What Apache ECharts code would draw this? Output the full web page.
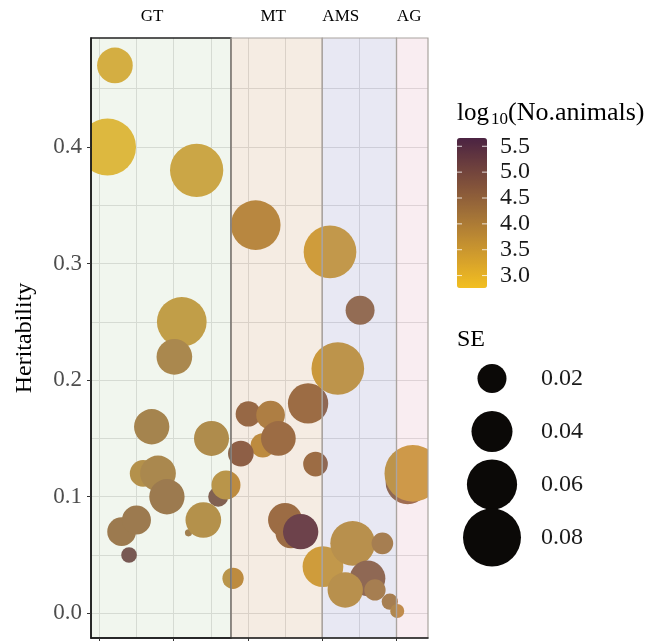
<!DOCTYPE html>
<html>
<head>
<meta charset="utf-8">
<script src="https://cdn.jsdelivr.net/npm/echarts@6/dist/echarts.min.js"></script>
<style>
  html, body { margin: 0; padding: 0; background: #fff; }
  #chart { width: 668px; height: 641px; }
</style>
</head>
<body>
<div id="chart"></div>
<script>
// studies, in drawing order (later ones sit on top)
const studyX = [1.1, 2.1, 13.1, 11.1, 10.1, 7.05, 15.1, 5.9, 7.9, 9.1, 16.0, 17.05, 3.0, 5.0, 4.0, 12.0, 14.0, 18.0,
  21.05, 20.05, 23.05, 22.0, 24.1, 19.05, 28.1, 29.1, 25.0, 25.8, 27.1,
  31.05, 35.1, 32.1, 30.1, 34.1, 38.1, 36.1, 33.1, 37.1, 39.1, 40.1, 41.5, 42.2];
const heritability = [0.400, 0.470, 0.380, 0.250, 0.220, 0.160, 0.150, 0.120, 0.120, 0.100, 0.100, 0.110, 0.070, 0.080, 0.050, 0.069, 0.080, 0.030,
  0.333, 0.171, 0.170, 0.144, 0.150, 0.137, 0.180, 0.128, 0.080, 0.069, 0.070,
  0.310, 0.260, 0.210, 0.040, 0.060, 0.060, 0.030, 0.020, 0.020, 0.010, 0.002, 0.1125, 0.120];
const seValues = [0.0774, 0.0303, 0.0676, 0.0588, 0.0303, 0.0297, 0.0292, 0.0170, 0.0303, 0.0297, 0.0095, 0.0200, 0.0196, 0.0200, 0.0059, 0.0012, 0.0303, 0.0108,
  0.0588, 0.0152, 0.0196, 0.0141, 0.0287, 0.0157, 0.0387, 0.0145, 0.0275, 0.0229, 0.0297,
  0.0661, 0.0200, 0.0661, 0.0394, 0.0476, 0.0112, 0.0303, 0.0297, 0.0108, 0.0063, 0.0047, 0.0461, 0.0765];
const logAnimals = [3.0, 3.2, 3.4, 3.6, 4.1, 4.2, 4.0, 3.9, 4.1, 4.4, 5.0, 3.8, 4.4, 4.4, 5.2, 4.3, 3.9, 3.8,
  3.9, 4.6, 4.1, 3.8, 4.5, 4.8, 4.5, 4.5, 4.5, 4.5, 5.5,
  3.4, 4.4, 3.5, 3.4, 3.6, 4.0, 4.5, 3.6, 4.0, 4.0, 3.8, 4.5, 3.5];

const groupNames = ['GT', 'MT', 'AMS', 'AG'];
const groupStart = [-1.12, 17.73, 30, 40];
const groupEnd = [17.73, 30, 40, 44.24];
const groupLabelX = [7.1, 23.4, 32.5, 41.7];
const groupFill = ['rgba(185,210,170,0.2)', 'rgba(205,160,115,0.2)', 'rgba(140,140,195,0.2)', 'rgba(225,165,185,0.2)'];

const xTicks = [0, 10, 20, 30, 40];
const yTicks = [0, 0.1, 0.2, 0.3, 0.4];
const gridX = [0, 5, 10, 15, 20, 25, 30, 35, 40];
const gridY = [0, 0.05, 0.1, 0.15, 0.2, 0.25, 0.3, 0.35, 0.4, 0.45];
const colorTicks = [3.0, 3.5, 4.0, 4.5, 5.0, 5.5];
const seLegend = [0.02, 0.04, 0.06, 0.08];

const xMin = -1.12, xMax = 44.24;
const yMin = -0.0212, yMax = 0.4935;
const cbMin = 2.76, cbMax = 5.66;
const cbLeft = 457, cbTop = 138, cbW = 30, cbH = 150;
const serif = "'Liberation Serif', 'Times New Roman', serif";

const seSize = se => Math.sqrt(se) * 205;

const chart = echarts.init(document.getElementById('chart'));

const bubbles = studyX.map((x, i) => [x, heritability[i], seValues[i], logAnimals[i]]);

chart.setOption({
  animation: false,
  grid: [
    { left: 91, right: 240, top: 38, bottom: 3 },
    { left: 462, width: 60, top: 352, height: 212 }
  ],
  xAxis: [{
    type: 'value', min: xMin, max: xMax, splitNumber: 5, z: 5,
    axisLine: { show: true, onZero: false, lineStyle: { color: '#1a1a1a', width: 1.5 } },
    axisTick: { show: true, customValues: xTicks, length: 4, lineStyle: { color: '#333' } },
    axisLabel: { show: false },
    splitLine: { show: false }
  }, {
    gridIndex: 1, type: 'value', min: -1, max: 1, show: false
  }],
  yAxis: [{
    type: 'value', min: yMin, max: yMax, splitNumber: 5, z: 5,
    name: 'Heritability', nameLocation: 'middle', nameGap: 54,
    nameTextStyle: { fontFamily: serif, fontSize: 24, color: '#000' },
    axisLine: { show: true, onZero: false, lineStyle: { color: '#1a1a1a', width: 1.5 } },
    axisTick: { show: true, customValues: yTicks, length: 4, lineStyle: { color: '#333' } },
    axisLabel: {
      customValues: yTicks, margin: 9, fontFamily: serif, fontSize: 23, color: '#4d4d4d',
      formatter: v => v.toFixed(1)
    },
    splitLine: { show: false }
  }, {
    gridIndex: 1, type: 'category', data: seLegend.map(String), inverse: true, show: false
  }],
  visualMap: {
    type: 'continuous', seriesIndex: 0, dimension: 3,
    min: cbMin, max: cbMax, calculable: false,
    orient: 'vertical', left: cbLeft, top: cbTop, padding: 0,
    itemWidth: cbW, itemHeight: cbH,
    inRange: { color: ['#F2BF20', '#D9A42A', '#BD8A32', '#A07038', '#85553A', '#693C3E', '#4B2342'] }
  },
  series: [{
    // bubbles, clipped to the panel
    type: 'custom', z: 2, clip: true,
    data: bubbles,
    encode: { x: 0, y: 1 },
    renderItem: (params, api) => {
      const c = api.coord([api.value(0), api.value(1)]);
      return {
        type: 'circle',
        shape: { cx: c[0], cy: c[1], r: seSize(api.value(2)) / 2 },
        style: { fill: api.visual('color') }
      };
    }
  }, {
    // grid lines under the bubbles, band overlays above them
    type: 'scatter', data: [], z: 1,
    markLine: {
      silent: true, z: 1, symbol: 'none', label: { show: false },
      lineStyle: { color: '#dedede', width: 1, type: 'solid' },
      data: gridX.map(v => ({ xAxis: v })).concat(gridY.map(v => ({ yAxis: v })))
    },
    markArea: {
      silent: true, z: 3,
      data: groupNames.map((g, i) => [{
        xAxis: groupStart[i], yAxis: yMin,
        itemStyle: {
          color: groupFill[i],
          borderColor: i === 0 ? '#222' : '#aaa49f',
          borderWidth: i === 0 ? 1.5 : 1.2
        }
      }, { xAxis: groupEnd[i], yAxis: yMax }])
    }
  }, {
    type: 'scatter', xAxisIndex: 1, yAxisIndex: 1,
    data: seLegend.map((s, i) => [0, i, s]),
    symbolSize: v => seSize(v[2]),
    itemStyle: { color: '#0b0907', opacity: 1 },
    label: {
      show: true, position: 'inside', offset: [49, 0], align: 'left',
      fontFamily: serif, fontSize: 24, color: '#1a1a1a',
      formatter: p => seLegend[p.dataIndex].toFixed(2)
    }
  }]
});

const graphics = [];
// group labels above the panel
groupNames.forEach((g, i) => {
  const px = chart.convertToPixel({ xAxisIndex: 0 }, groupLabelX[i]);
  graphics.push({
    type: 'text', x: px, y: 17, z: 100,
    style: { text: g, fontFamily: serif, fontSize: 17, fill: '#000', align: 'center', verticalAlign: 'middle' }
  });
});
// colour bar title and ticks
graphics.push({ type: 'text', x: 457, y: 113, z: 100, style: { text: 'log', fontFamily: serif, fontSize: 25, fill: '#000', verticalAlign: 'middle' } });
graphics.push({ type: 'text', x: 491, y: 120, z: 100, style: { text: '10', fontFamily: serif, fontSize: 17, fill: '#000', verticalAlign: 'middle' } });
graphics.push({ type: 'text', x: 508, y: 113, z: 100, style: { text: '(No.animals)', fontFamily: serif, fontSize: 26, fill: '#000', verticalAlign: 'middle' } });
colorTicks.forEach(v => {
  const py = cbTop + (cbMax - v) / (cbMax - cbMin) * cbH;
  graphics.push({ type: 'line', z: 100, shape: { x1: cbLeft, y1: py, x2: cbLeft + 5, y2: py }, style: { stroke: 'rgba(255,255,255,0.8)', lineWidth: 1 } });
  graphics.push({ type: 'line', z: 100, shape: { x1: cbLeft + cbW - 5, y1: py, x2: cbLeft + cbW, y2: py }, style: { stroke: 'rgba(255,255,255,0.8)', lineWidth: 1 } });
  graphics.push({
    type: 'text', x: 500, y: py, z: 100,
    style: { text: v.toFixed(1), fontFamily: serif, fontSize: 24, fill: '#1a1a1a', verticalAlign: 'middle' }
  });
});
graphics.push({ type: 'text', x: 457, y: 340, z: 100, style: { text: 'SE', fontFamily: serif, fontSize: 24, fill: '#000', verticalAlign: 'middle' } });

chart.setOption({ graphic: { elements: graphics } });
</script>
</body>
</html>
